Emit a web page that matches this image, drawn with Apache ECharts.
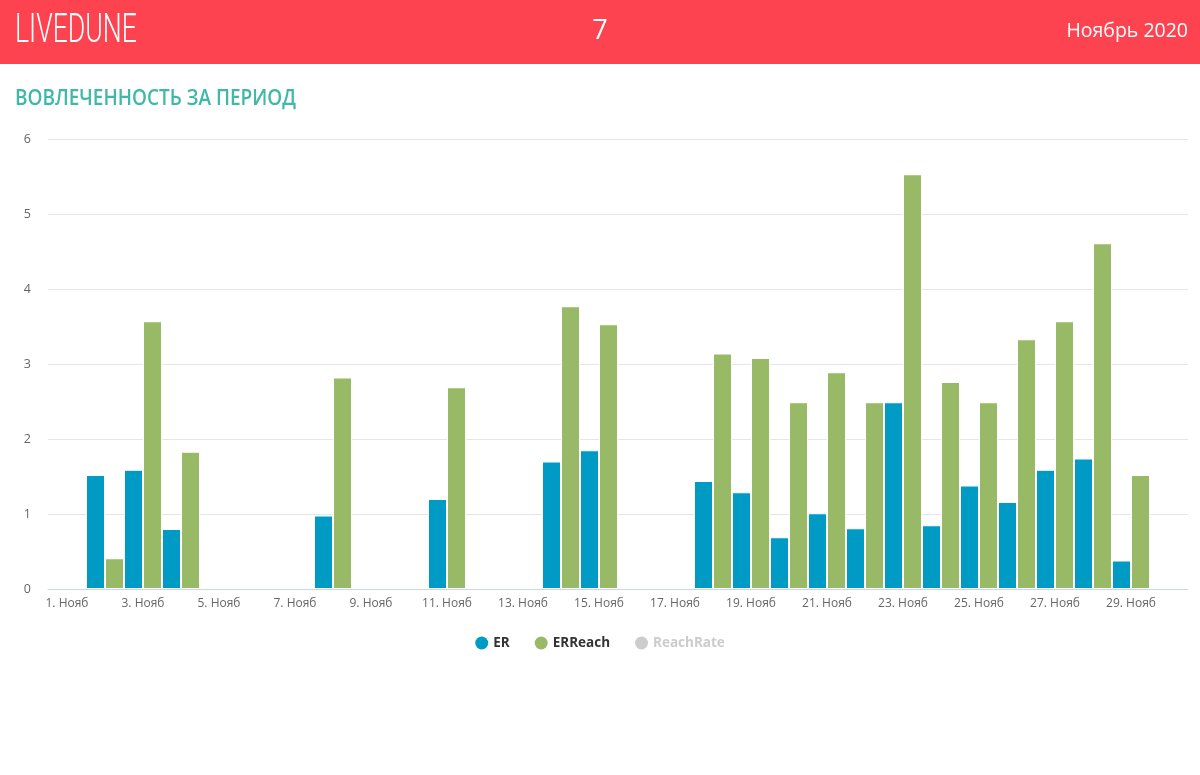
<!DOCTYPE html>
<html>
<head>
<meta charset="utf-8">
<script src="https://cdn.jsdelivr.net/npm/echarts@6/dist/echarts.min.js"></script>
<style>
html,body{margin:0;padding:0;background:#fff;}
#chart{width:1200px;height:775px;}
</style>
</head>
<body>
<div id="chart"></div>
<script>
var days = ['1. Нояб','2. Нояб','3. Нояб','4. Нояб','5. Нояб','6. Нояб','7. Нояб','8. Нояб','9. Нояб','10. Нояб',
  '11. Нояб','12. Нояб','13. Нояб','14. Нояб','15. Нояб','16. Нояб','17. Нояб','18. Нояб','19. Нояб','20. Нояб',
  '21. Нояб','22. Нояб','23. Нояб','24. Нояб','25. Нояб','26. Нояб','27. Нояб','28. Нояб','29. Нояб','30. Нояб'];
var erValues = [null,1.52,1.59,0.80,null,null,null,0.98,null,null,
  1.20,null,null,1.70,1.85,null,null,1.44,1.29,0.69,
  1.01,0.81,2.49,0.85,1.38,1.16,1.59,1.74,0.38,null];
var erReachValues = [null,0.41,3.57,1.83,null,null,null,2.82,null,null,
  2.69,null,null,3.77,3.53,null,null,3.14,3.08,2.49,
  2.89,2.49,5.53,2.76,2.49,3.33,3.57,4.61,1.52,null];
var reachRateValues = [];
var seriesNames = ['ER','ERReach','ReachRate'];
var headerTexts = {brand:'LIVEDUNE', page:'7', period:'Ноябрь 2020', title:'ВОВЛЕЧЕННОСТЬ ЗА ПЕРИОД'};

function fitScale(text, font, targetWidth) {
  var ctx = document.createElement('canvas').getContext('2d');
  ctx.font = font;
  var w = ctx.measureText(text).width;
  return w > 0 ? targetWidth / w : 1;
}
var brandFont = '300 40px Roboto, "Open Sans", sans-serif';
var titleFont = '600 21px "Open Sans", sans-serif';
var brandScale = fitScale(headerTexts.brand, brandFont, 122);
var titleScale = fitScale(headerTexts.title, titleFont, 281);

var chart = echarts.init(document.getElementById('chart'));
var FONT = '"Open Sans", "Noto Sans", sans-serif';
chart.setOption({
  animation: false,
  textStyle: {fontFamily: FONT},
  graphic: [
    {type:'rect', shape:{x:0,y:0,width:1200,height:64}, style:{fill:'#fe4350'}, silent:true},
    {type:'text', x:15, y:32, scaleX:brandScale, style:{text:headerTexts.brand, fill:'#fff', font:brandFont, textVerticalAlign:'middle'}},
    {type:'text', x:600, y:31, style:{text:headerTexts.page, fill:'#fff', font:'27px "Open Sans", sans-serif', textAlign:'center', textVerticalAlign:'middle'}},
    {type:'text', x:1188, y:31, style:{text:headerTexts.period, fill:'#fff', font:'19.5px "Open Sans", sans-serif', textAlign:'right', textVerticalAlign:'middle'}},
    {type:'text', x:15, y:99, scaleX:titleScale, style:{text:headerTexts.title, fill:'#3fb8a9', font:titleFont, textVerticalAlign:'middle'}}
  ],
  legend: {
    data: seriesNames,
    icon: 'circle',
    itemWidth: 13, itemHeight: 13,
    itemGap: 25,
    left: 'center', top: 631,
    selected: {ReachRate: false},
    inactiveColor: '#cccccc',
    inactiveBorderWidth: 0,
    itemStyle: {borderWidth: 0},
    textStyle: {fontFamily: FONT, fontSize: 13.5, fontWeight: 'bold', color: '#333333'}
  },
  grid: {left: 48, right: 12, top: 139, bottom: 186, containLabel: false, outerBoundsMode: 'none'},
  xAxis: {
    type: 'category',
    data: days,
    boundaryGap: true,
    axisLine: {lineStyle: {color: '#ccd6eb'}},
    axisTick: {alignWithLabel: true, interval: 1, length: 10, lineStyle: {color: '#ccd6eb'}},
    axisLabel: {interval: 1, color: '#666666', fontSize: 12, margin: 9, fontFamily: FONT},
    splitLine: {show: false}
  },
  yAxis: {
    type: 'value',
    min: 0, max: 6, interval: 1,
    axisLine: {show: false},
    axisTick: {show: false},
    axisLabel: {color: '#666666', fontSize: 12.5, margin: 17, fontFamily: FONT},
    splitLine: {lineStyle: {color: '#e6e6e6'}}
  },
  series: [
    {name: seriesNames[0], type: 'bar', data: erValues, barGap: '0%', barCategoryGap: '0%',
     itemStyle: {color: '#009bc4', borderColor: '#ffffff', borderWidth: 1}},
    {name: seriesNames[1], type: 'bar', data: erReachValues, barGap: '0%', barCategoryGap: '0%',
     itemStyle: {color: '#98ba67', borderColor: '#ffffff', borderWidth: 1}},
    {name: seriesNames[2], type: 'bar', data: reachRateValues, barGap: '0%', barCategoryGap: '0%',
     itemStyle: {color: '#c8c8c8', borderColor: '#ffffff', borderWidth: 1}}
  ]
});
</script>
</body>
</html>
